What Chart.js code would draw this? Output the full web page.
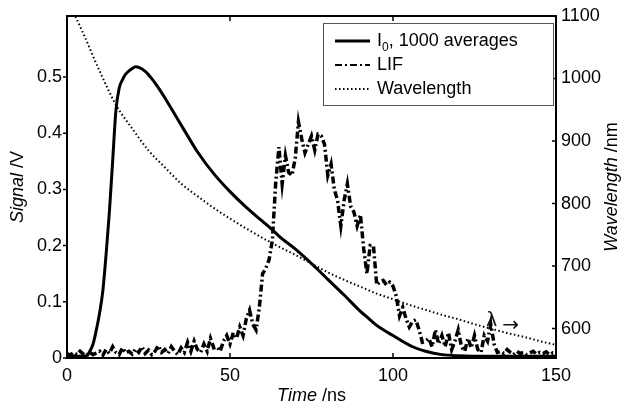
<!DOCTYPE html>
<html>
<head>
<meta charset="utf-8">
<script src="https://cdn.jsdelivr.net/npm/chart.js"></script>
<style>
  html, body { margin: 0; padding: 0; background: #fff; }
  #chart { display: block; }
</style>
</head>
<body>
<canvas id="chart" width="629" height="404"></canvas>
<script>
// I0 pulse, 1000 averages (left axis, V)
const i0Time = [0, 2, 4, 6, 7, 8, 9, 10, 11, 12, 13, 14, 15, 16, 17, 18, 20, 21, 22, 24,
  26, 28, 30, 33, 36, 40, 45, 50, 55, 60, 63, 65, 70, 75, 77, 80, 85, 90, 92, 95,
  100, 106, 110, 115, 120, 130, 140, 150];
const i0Signal = [0.003, 0.003, 0.003, 0.004, 0.012, 0.025, 0.05, 0.08, 0.12, 0.185, 0.26, 0.35, 0.44, 0.48, 0.495, 0.505, 0.515, 0.518, 0.517, 0.51,
  0.497, 0.481, 0.463, 0.434, 0.405, 0.367, 0.328, 0.296, 0.268, 0.243, 0.228, 0.217, 0.194, 0.168, 0.157, 0.14, 0.112, 0.083, 0.073, 0.058,
  0.04, 0.02, 0.012, 0.006, 0.004, 0.003, 0.003, 0.003];

// LIF signal, one sample per ns from 0 to 150 ns (left axis, V)
const lifSignal = [
  0.008, 0.005, 0.01, 0.006, 0.012, 0.007, 0.004, 0.01, 0.006, 0.009,
  0.012, 0.005, 0.015, 0.008, 0.02, 0.01, 0.006, 0.018, 0.009, 0.012,
  0.007, 0.016, 0.01, 0.02, 0.008, 0.014, 0.006, 0.012, 0.022, 0.01,
  0.015, 0.008, 0.02, 0.012, 0.006, 0.018, 0.01, 0.028, 0.012, 0.03,
  0.015, 0.01, 0.025, 0.012, 0.035, 0.018, 0.02, 0.012, 0.03, 0.04,
  0.025, 0.045, 0.035, 0.055, 0.04, 0.07, 0.085, 0.06, 0.05, 0.09,
  0.15, 0.16, 0.175, 0.21, 0.31, 0.375, 0.31, 0.36, 0.33, 0.325,
  0.355, 0.42, 0.39, 0.365, 0.38, 0.395, 0.37, 0.398, 0.395, 0.38,
  0.325, 0.345, 0.3, 0.28, 0.235, 0.28, 0.31, 0.27, 0.26, 0.235,
  0.255, 0.195, 0.15, 0.2, 0.2, 0.13, 0.135, 0.138, 0.13, 0.135,
  0.128, 0.11, 0.075, 0.09, 0.07, 0.055, 0.065, 0.068, 0.05, 0.028,
  0.03, 0.035, 0.02, 0.05, 0.025, 0.04, 0.02, 0.045, 0.015, 0.03,
  0.05, 0.02, 0.012, 0.035, 0.018, 0.04, 0.015, 0.01, 0.04, 0.03,
  0.06, 0.025, 0.01, 0.012, 0.008, 0.015, 0.01, 0.006, 0.012, 0.008,
  0.01, 0.006, 0.009, 0.012, 0.007, 0.01, 0.008, 0.011, 0.006, 0.009,
  0.008
];

// wavelength sweep (right axis, nm)
const waveTime = [0, 5, 10, 15, 20, 25, 30, 35, 40, 45, 50, 55, 60, 65, 70, 75,
  80, 85, 90, 95, 100, 105, 110, 115, 120, 125, 130, 135, 140, 145, 150];
const waveLength = [1128, 1072, 1012, 958, 920, 885, 858, 832, 812, 793, 776, 760, 745, 731, 718, 704,
  690, 678, 667, 656, 647, 638, 630, 622, 615, 607, 600, 593, 587, 580, 574];

const timeTicks = [0, 50, 100, 150];
const signalTicks = [0, 0.1, 0.2, 0.3, 0.4, 0.5];
const waveTicks = [600, 700, 800, 900, 1000, 1100];

const FONT = '"Liberation Sans", Arial, sans-serif';

function setFont(ctx, size, italic, family) {
  ctx.font = (italic ? "italic " : "") + size + "px " + (family || FONT);
}

// axis title with italic quantity and upright unit
function drawTitle(ctx, parts, x, y, rotate) {
  ctx.save();
  ctx.translate(x, y);
  if (rotate) ctx.rotate(-Math.PI / 2);
  let total = 0;
  parts.forEach((p) => {
    setFont(ctx, 18, p[1]);
    total += ctx.measureText(p[0]).width;
  });
  let cx = -total / 2;
  ctx.textBaseline = "middle";
  ctx.textAlign = "left";
  ctx.fillStyle = "#000";
  parts.forEach((p) => {
    setFont(ctx, 18, p[1]);
    ctx.fillText(p[0], cx, 0);
    cx += ctx.measureText(p[0]).width;
  });
  ctx.restore();
}

const framePlugin = {
  id: "frame",
  afterDraw(chart) {
    const ctx = chart.ctx;
    const a = chart.chartArea;
    const sx = chart.scales.x;
    const sy = chart.scales.y;
    const sy2 = chart.scales.y2;
    ctx.save();
    ctx.strokeStyle = "#000";
    ctx.lineWidth = 2;
    ctx.strokeRect(a.left, a.top, a.right - a.left, a.bottom - a.top);
    ctx.lineWidth = 1.5;
    ctx.beginPath();
    timeTicks.forEach((v) => {
      const px = sx.getPixelForValue(v);
      ctx.moveTo(px, a.bottom);
      ctx.lineTo(px, a.bottom - 5);
      ctx.moveTo(px, a.top);
      ctx.lineTo(px, a.top + 5);
    });
    signalTicks.forEach((v) => {
      const py = sy.getPixelForValue(v);
      ctx.moveTo(a.left, py);
      ctx.lineTo(a.left - 4, py);
    });
    waveTicks.forEach((v) => {
      const py = sy2.getPixelForValue(v);
      ctx.moveTo(a.right, py);
      ctx.lineTo(a.right - 4, py);
    });
    ctx.stroke();

    // axis titles
    drawTitle(ctx, [["Time", true], [" /ns", false]], (a.left + a.right) / 2, 396, false);
    drawTitle(ctx, [["Signal", true], [" /V", false]], 18, (a.top + a.bottom) / 2, true);
    drawTitle(ctx, [["Wavelength", true], [" /nm", false]], 612, (a.top + a.bottom) / 2, true);

    // lambda arrow note
    ctx.fillStyle = "#111";
    ctx.textAlign = "left";
    ctx.textBaseline = "middle";
    setFont(ctx, 19, false, '"DejaVu Sans", sans-serif');
    ctx.fillText("λ", sx.getPixelForValue(128.5), sy2.getPixelForValue(612));
    setFont(ctx, 20, false, '"DejaVu Sans", sans-serif');
    ctx.fillText("→", sx.getPixelForValue(133.5), sy2.getPixelForValue(605));

    // legend box
    const bx = 323, by = 23, bw = 230, bh = 82;
    ctx.fillStyle = "#fff";
    ctx.fillRect(bx, by, bw, bh);
    ctx.strokeStyle = "#555";
    ctx.lineWidth = 1;
    ctx.strokeRect(bx + 0.5, by + 0.5, bw, bh);
    chart.data.datasets.forEach((ds, i) => {
      const ly = by + 18 + i * 24;
      ctx.save();
      ctx.strokeStyle = ds.borderColor;
      ctx.lineWidth = i === 0 ? 3 : 2;
      ctx.setLineDash(ds.borderDash || []);
      ctx.beginPath();
      ctx.moveTo(335, ly);
      ctx.lineTo(370, ly);
      ctx.stroke();
      ctx.restore();
      ctx.fillStyle = "#000";
      ctx.textBaseline = "middle";
      let tx = 377;
      if (ds.label.startsWith("I0")) {
        setFont(ctx, 18, false);
        ctx.fillText("I", tx, ly);
        tx += ctx.measureText("I").width;
        setFont(ctx, 12, false);
        ctx.fillText("0", tx, ly + 7);
        tx += ctx.measureText("0").width;
        setFont(ctx, 18, false);
        ctx.fillText(ds.label.slice(2), tx, ly);
      } else {
        setFont(ctx, 18, false);
        ctx.fillText(ds.label, tx, ly);
      }
    });
    ctx.restore();
  },
};

new Chart(document.getElementById("chart"), {
  type: "line",
  data: {
    datasets: [
      {
        label: "I0, 1000 averages",
        data: i0Time.map((t, i) => ({ x: t, y: i0Signal[i] })),
        yAxisID: "y",
        borderColor: "#000",
        borderWidth: 3,
        pointRadius: 0,
        cubicInterpolationMode: "monotone",
      },
      {
        label: "LIF",
        data: lifSignal.map((v, i) => ({ x: i, y: v })),
        yAxisID: "y",
        borderColor: "#000",
        borderWidth: 3.5,
        borderDash: [7, 3, 2, 3],
        pointRadius: 0,
        tension: 0,
      },
      {
        label: "Wavelength",
        data: waveTime.map((t, i) => ({ x: t, y: waveLength[i] })),
        yAxisID: "y2",
        borderColor: "#000",
        borderWidth: 2,
        borderDash: [1.5, 2.5],
        pointRadius: 0,
        cubicInterpolationMode: "monotone",
      },
    ],
  },
  options: {
    responsive: false,
    animation: false,
    layout: { padding: { top: 16, left: 0, right: 0, bottom: 0 } },
    plugins: { legend: { display: false }, tooltip: { enabled: false } },
    scales: {
      x: {
        type: "linear",
        min: 0,
        max: 150,
        grid: { display: false, drawTicks: false },
        border: { display: false },
        afterBuildTicks: (s) => { s.ticks = timeTicks.map((v) => ({ value: v })); },
        afterFit: (s) => { s.height = 46; },
        ticks: { color: "#000", padding: 7, maxRotation: 0, font: { family: FONT, size: 18 }, callback: (v) => String(v) },
      },
      y: {
        position: "left",
        min: 0,
        max: 0.6085,
        grid: { display: false, drawTicks: false },
        border: { display: false },
        afterBuildTicks: (s) => { s.ticks = signalTicks.map((v) => ({ value: v })); },
        afterFit: (s) => { s.width = 67; },
        ticks: { color: "#000", padding: 5, font: { family: FONT, size: 18 }, callback: (v) => String(v) },
      },
      y2: {
        position: "right",
        min: 553,
        max: 1100,
        grid: { display: false, drawTicks: false },
        border: { display: false },
        afterBuildTicks: (s) => { s.ticks = waveTicks.map((v) => ({ value: v })); },
        afterFit: (s) => { s.width = 73; },
        ticks: { color: "#000", padding: 5, font: { family: FONT, size: 18 }, callback: (v) => String(v) },
      },
    },
  },
  plugins: [framePlugin],
});
</script>
</body>
</html>
